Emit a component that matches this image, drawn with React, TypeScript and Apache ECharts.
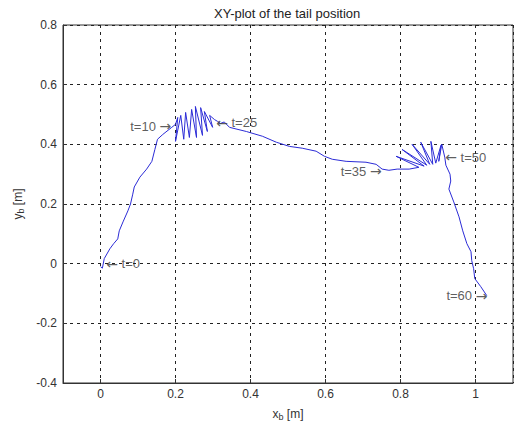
import React, { useEffect, useRef } from "react";
import * as echarts from "echarts";

// Trajectory of the tail (x_b, y_b)
const pathX = [
  0.0, 0.005, 0.01, 0.025, 0.035, 0.046, 0.05, 0.06, 0.073, 0.08, 0.086, 0.09,
  0.105, 0.123, 0.137, 0.145, 0.152, 0.166, 0.18, 0.19, 0.2,
  0.206, 0.2, 0.214, 0.222, 0.227, 0.237, 0.243, 0.256, 0.253, 0.272, 0.267,
  0.285, 0.277, 0.299, 0.291, 0.304, 0.312,
  0.32, 0.33, 0.344, 0.389, 0.432, 0.469, 0.504, 0.538, 0.575, 0.597, 0.618,
  0.655, 0.708, 0.735, 0.751, 0.769, 0.791,
  0.823, 0.849, 0.788, 0.863, 0.804, 0.87, 0.831, 0.878, 0.854, 0.886, 0.881,
  0.894, 0.908, 0.902, 0.91, 0.918,
  0.921, 0.932, 0.934, 0.929, 0.942, 0.956, 0.966, 0.977, 0.988, 0.99, 0.995,
  0.998, 1.014, 1.03,
];
const pathY = [
  -0.01, -0.015, 0.017, 0.05, 0.067, 0.083, 0.11, 0.14, 0.177, 0.2, 0.233, 0.257,
  0.29, 0.317, 0.343, 0.383, 0.417, 0.433, 0.447, 0.457, 0.467,
  0.49, 0.41, 0.497, 0.417, 0.507, 0.423, 0.517, 0.423, 0.527, 0.43, 0.523,
  0.443, 0.51, 0.457, 0.497, 0.483, 0.477,
  0.47, 0.475, 0.457, 0.443, 0.427, 0.407, 0.393, 0.387, 0.377, 0.36, 0.35,
  0.343, 0.34, 0.333, 0.317, 0.313, 0.317,
  0.317, 0.323, 0.36, 0.327, 0.383, 0.33, 0.4, 0.333, 0.407, 0.333, 0.41,
  0.337, 0.397, 0.343, 0.4, 0.357,
  0.33, 0.3, 0.277, 0.25, 0.207, 0.157, 0.11, 0.067, 0.04, 0.01, -0.017,
  -0.05, -0.077, -0.107,
];

// Time annotations
const noteText = ["t=0", "t=10", "t=25", "t=35", "t=50", "t=60"];
const noteX = [0.014, 0.19, 0.307, 0.751, 0.918, 1.033];
const noteY = [0.0, 0.46, 0.473, 0.31, 0.357, -0.107];
const noteSide = ["right", "left", "right", "left", "right", "left"];

// Axis settings
const xMin = -0.1;
const xMax = 1.1;
const yMin = -0.4;
const yMax = 0.8;
const yStep = 0.2;

const FONT = "'Liberation Sans', Arial, sans-serif";

export default function App() {
  const ref = useRef<HTMLDivElement>(null);
  useEffect(() => {
    if (!ref.current) return;
    const chart = echarts.init(ref.current, undefined, { renderer: "svg" });
    const lineData = pathX.map((x, i) => [x, pathY[i]]);
    const notes = noteText.map((t, i) => ({
      value: [noteX[i], noteY[i]],
      label: {
        show: true,
        formatter: noteSide[i] === "right" ? "{a|\u2190} " + t : t + " {a|\u2192}",
        position: noteSide[i] as any,
        distance: 0,
        color: "#333",
        fontSize: 13,
        fontFamily: FONT,
        rich: {
          a: { fontFamily: "'DejaVu Sans'", fontSize: 14, color: "#333" },
        },
      },
    }));
    const split = {
      show: true,
      lineStyle: { color: "#222", width: 1, type: [3, 4] as any },
    };
    chart.setOption({
      animation: false,
      backgroundColor: "#fff",
      title: {
        text: "XY-plot of the tail position",
        left: 209,
        top: 2,
        textStyle: { fontSize: 13, fontWeight: "normal", color: "#222", fontFamily: FONT },
      },
      grid: {
        left: 63,
        right: 2,
        top: 25,
        bottom: 41,
        show: true,
        borderColor: "#333",
        borderWidth: 1,
      },
      xAxis: {
        type: "value",
        min: xMin,
        max: xMax,
        splitNumber: 6,
        name: "x{s|b} [m]",
        nameLocation: "middle",
        nameGap: 23,
        nameTextStyle: {
          fontSize: 12,
          color: "#333",
          fontFamily: FONT,
          rich: { s: { fontSize: 9, verticalAlign: "bottom", padding: [6, 0, 0, 0], color: "#333", fontFamily: FONT } },
        },
        axisLine: { show: true, onZero: false, lineStyle: { color: "#333" } },
        axisTick: { show: true, inside: true, length: 4, lineStyle: { color: "#333" } },
        axisLabel: { showMinLabel: false, showMaxLabel: false, color: "#333", fontSize: 12, fontFamily: FONT, margin: 5 },
        splitLine: split,
      },
      yAxis: {
        type: "value",
        min: yMin,
        max: yMax,
        interval: yStep,
        name: "y{s|b} [m]",
        nameLocation: "middle",
        nameGap: 36,
        nameTextStyle: {
          fontSize: 12,
          color: "#333",
          fontFamily: FONT,
          rich: { s: { fontSize: 9, color: "#333", padding: [6, 0, 0, 0], fontFamily: FONT } },
        },
        axisLine: { show: true, onZero: false, lineStyle: { color: "#333" } },
        axisTick: { show: true, inside: true, length: 4, lineStyle: { color: "#333" } },
        axisLabel: { color: "#333", fontSize: 12, fontFamily: FONT, margin: 6 },
        splitLine: split,
      },
      series: [
        {
          type: "line",
          data: lineData,
          showSymbol: false,
          symbol: "none",
          lineStyle: { color: "#2b2bd6", width: 1 },
          z: 3,
        },
        {
          type: "scatter",
          data: notes,
          symbolSize: 1,
          itemStyle: { color: "rgba(0,0,0,0)" },
          z: 4,
        },
      ],
    });
    return () => chart.dispose();
  }, []);
  return (
    <div
      ref={ref}
      style={{ position: "fixed", left: 0, top: 0, width: 515, height: 426 }}
    />
  );
}
